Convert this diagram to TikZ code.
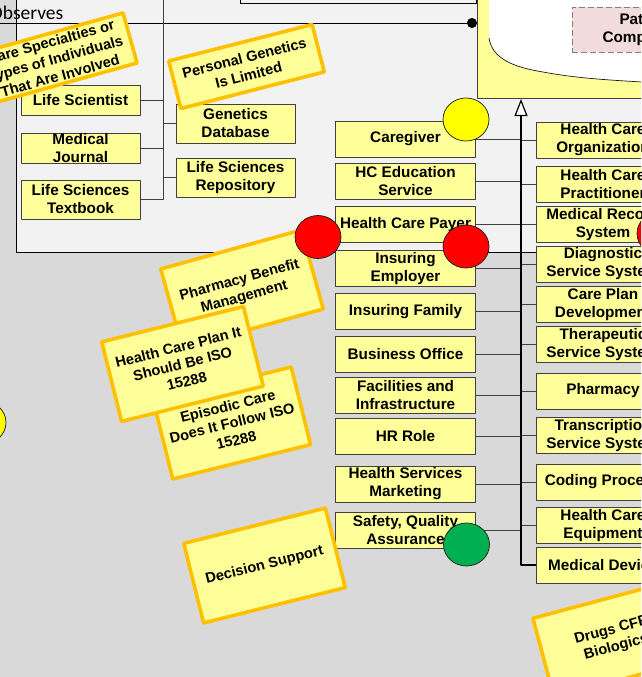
\documentclass[tikz,border=0pt]{standalone}
\usepackage{fontspec}
\setmainfont{Liberation Sans}
\newfontfamily\calibri{Carlito}
\usetikzlibrary{arrows.meta, calc, shapes.geometric}
\definecolor{ink}{HTML}{1A1A1A}
\definecolor{edge}{HTML}{404040}
\definecolor{pale}{HTML}{FFFF99}
\definecolor{stickyedge}{HTML}{FFC000}
\definecolor{bgdark}{HTML}{D9D9D9}
\definecolor{bglight}{HTML}{F2F2F2}
\definecolor{rosy}{HTML}{F2DCDB}
\definecolor{lampred}{HTML}{FF0000}
\definecolor{lampyel}{HTML}{FFFF00}
\definecolor{lampgrn}{HTML}{00B050}

\begin{document}
\begin{tikzpicture}[x=1pt, y=-1pt, line join=round,
    cls/.style={draw=edge, fill=pale, line width=0.9pt, minimum width=140,
                minimum height=36, inner sep=0pt, align=center,
                font=\fontsize{15.3}{18}\selectfont\bfseries},
    sticky/.style={draw=stickyedge, fill=pale, line width=3.6pt, minimum width=146,
                   minimum height=82, inner sep=0pt, align=center,
                   font=\fontsize{14.6}{17.5}\selectfont\bfseries},
    lamp/.style={ellipse, draw=ink, line width=0.7pt, minimum width=46,
                 minimum height=43, inner sep=0pt},
    wire/.style={draw=edge, line width=0.9pt},
    gen/.style={-{Triangle[length=17pt, width=13pt, fill=white, line width=1.2pt]},
                line width=1.8pt, black}]
  \useasboundingbox (0,0) rectangle (641,677);
  \clip (0,0) rectangle (641,677);
  \fill[bgdark] (0,0) rectangle (641,677);
  \draw[fill=bglight, line width=0.9pt] (16,-20) rectangle (720,252);
  \node[draw, fill=bglight, line width=0.9pt, anchor=south west, minimum width=236,
        minimum height=30] (upper) at (240,4) {};

  % patient block, top right
  \node[draw=edge, fill=pale, line width=0.9pt, anchor=south west, minimum width=240,
        minimum height=130] (patient) at (477,99) {};
  \fill[white] (489,-10) -- (489,38) .. controls (492,58) and (512,67) .. (543,72)
    .. controls (575,78) and (605,80) .. (660,83) -- (660,-10) -- cycle;
  \draw[ink, line width=0.7pt] (489,38) .. controls (492,58) and (512,67) .. (543,72)
    .. controls (575,78) and (605,80) .. (660,83);
  \node[cls, fill=rosy, draw=gray, dash pattern=on 6pt off 3pt, minimum width=146,
        minimum height=45] (patcomp) at (645,29.5) {Patient\\Component};

  \coordinate (obs) at (-5,23);
  \draw[line width=0.9pt, -{Circle[length=10pt]}] (obs) -- (obs -| patient.west);
  \node[anchor=base east, inner sep=0pt, font=\calibri\fontsize{19.5}{21}\selectfont]
    (obslbl) at (63.5,19.5) {Observes};

  % life science group
  \coordinate (lbus) at (163,-5);
  \node[cls, minimum width=119, minimum height=30] (lifesci)  at (80.5,100)   {Life Scientist};
  \node[cls, minimum width=119, minimum height=30] (journal)  at (80.5,148)   {Medical\\Journal};
  \node[cls, minimum width=119, minimum height=39] (textbook) at (80.5,199.5) {Life Sciences\\Textbook};
  \node[cls, minimum width=119, minimum height=39] (genedb)   at (235.5,123.5) {Genetics\\Database};
  \node[cls, minimum width=119, minimum height=39] (lsrepo)   at (235.5,177.5) {Life Sciences\\Repository};
  \draw[wire] (lbus) |- (textbook.east);
  \draw[wire] (lifesci.east) -- (lifesci.east -| lbus);
  \draw[wire] (journal.east) -- (journal.east -| lbus);
  \draw[wire] (genedb.west) -- (genedb.west -| lbus);
  \draw[wire] (lsrepo.west) -- (lsrepo.west -| lbus);

  % roles, middle column
  \node[cls] (caregiver) at (405.5,139)   {Caregiver};
  \node[cls] (hcedu)     at (405.5,181)   {HC Education\\Service};
  \node[cls] (hcpayer)   at (405.5,224.5) {Health Care Payer};
  \node[cls] (insemp)    at (405.5,268.5) {Insuring\\Employer};
  \node[cls] (insfam)    at (405.5,311.5) {Insuring Family};
  \node[cls] (busoff)    at (405.5,354)   {Business Office};
  \node[cls] (facil)     at (405.5,395.5) {Facilities and\\Infrastructure};
  \node[cls] (hrrole)    at (405.5,436)   {HR Role};
  \node[cls] (hsmkt)     at (405.5,484)   {Health Services\\Marketing};
  \node[cls] (safety)    at (405.5,530)   {Safety, Quality\\Assurance};

  % systems, right column
  \node[cls, minimum width=134] (hcorg)    at (603,140)   {Health Care\\Organization};
  \node[cls, minimum width=134] (hcprac)   at (603,184.5) {Health Care\\Practitioner};
  \node[cls, minimum width=134] (medrec)   at (603,224.5) {Medical Record\\System};
  \node[cls, minimum width=134] (diag)     at (603,264)   {Diagnostic\\Service System};
  \node[cls, minimum width=134] (careplan) at (603,304.5) {Care Plan\\Development};
  \node[cls, minimum width=134] (therap)   at (603,344.5) {Therapeutic\\Service System};
  \node[cls, minimum width=134] (pharmacy) at (603,391)   {Pharmacy};
  \node[cls, minimum width=134] (transcr)  at (603,435.5) {Transcription\\Service System};
  \node[cls, minimum width=134] (coding)   at (603,482)   {Coding Process};
  \node[cls, minimum width=134] (hcequip)  at (603,525.5) {Health Care\\Equipment};
  \node[cls, minimum width=134] (meddev)   at (603,565)   {Medical Device};

  \coordinate (trunk) at (521,99);
  \draw[wire] (caregiver.east) -- (caregiver.east -| trunk);
  \draw[wire] (hcedu.east)     -- (hcedu.east -| trunk);
  \draw[wire] (hcpayer.east)   -- (hcpayer.east -| trunk);
  \draw[wire] (insemp.east)    -- (insemp.east -| trunk);
  \draw[wire] (insfam.east)    -- (insfam.east -| trunk);
  \draw[wire] (busoff.east)    -- (busoff.east -| trunk);
  \draw[wire] (facil.east)     -- (facil.east -| trunk);
  \draw[wire] (hrrole.east)    -- (hrrole.east -| trunk);
  \draw[wire] (hsmkt.east)     -- (hsmkt.east -| trunk);
  \draw[wire] (safety.east)    -- (safety.east -| trunk);
  \draw[wire] (hcorg.west)     -- (hcorg.west -| trunk);
  \draw[wire] (hcprac.west)    -- (hcprac.west -| trunk);
  \draw[wire] (medrec.west)    -- (medrec.west -| trunk);
  \draw[wire] (diag.west)      -- (diag.west -| trunk);
  \draw[wire] (careplan.west)  -- (careplan.west -| trunk);
  \draw[wire] (therap.west)    -- (therap.west -| trunk);
  \draw[wire] (pharmacy.west)  -- (pharmacy.west -| trunk);
  \draw[wire] (transcr.west)   -- (transcr.west -| trunk);
  \draw[wire] (coding.west)    -- (coding.west -| trunk);
  \draw[wire] (hcequip.west)   -- (hcequip.west -| trunk);
  \draw[gen] (meddev.west) -| (trunk);

  % sticky notes
  \node[sticky, minimum width=155, minimum height=52, rotate=15.6] (noteA) at (55.4,58.8)
    {Care Specialties or\\Types of Individuals\\That Are Involved};
  \node[sticky, minimum width=148, minimum height=49, rotate=14.3] (noteB) at (246.5,66.5)
    {Personal Genetics\\Is Limited};
  \node[sticky, rotate=15.5] (noteC) at (242,289) {Pharmacy Benefit\\Management};
  \node[sticky, minimum width=142, minimum height=80, rotate=14] (noteD) at (232,423)
    {Episodic Care\\Does It Follow ISO\\15288};
  \node[sticky, rotate=14] (noteE) at (182.5,364) {Health Care Plan It\\Should Be ISO\\15288};
  \node[sticky, rotate=14] (noteF) at (264.5,565.5) {Decision Support};
  \node[sticky, rotate=15] (noteG) at (614,639) {Drugs CFR\\Biologics};

  % status lamps
  \node[lamp, fill=lampyel] (lampA) at (466,119.5) {};
  \node[lamp, fill=lampred] (lampB) at (318,237) {};
  \node[lamp, fill=lampred] (lampC) at (466,246.5) {};
  \node[lamp, fill=lampred] (lampD) at (660,233.5) {};
  \node[lamp, fill=lampgrn] (lampE) at (466.5,544.5) {};
  \node[lamp, fill=lampyel] (lampF) at (-17,422.5) {};
\end{tikzpicture}
\end{document}
